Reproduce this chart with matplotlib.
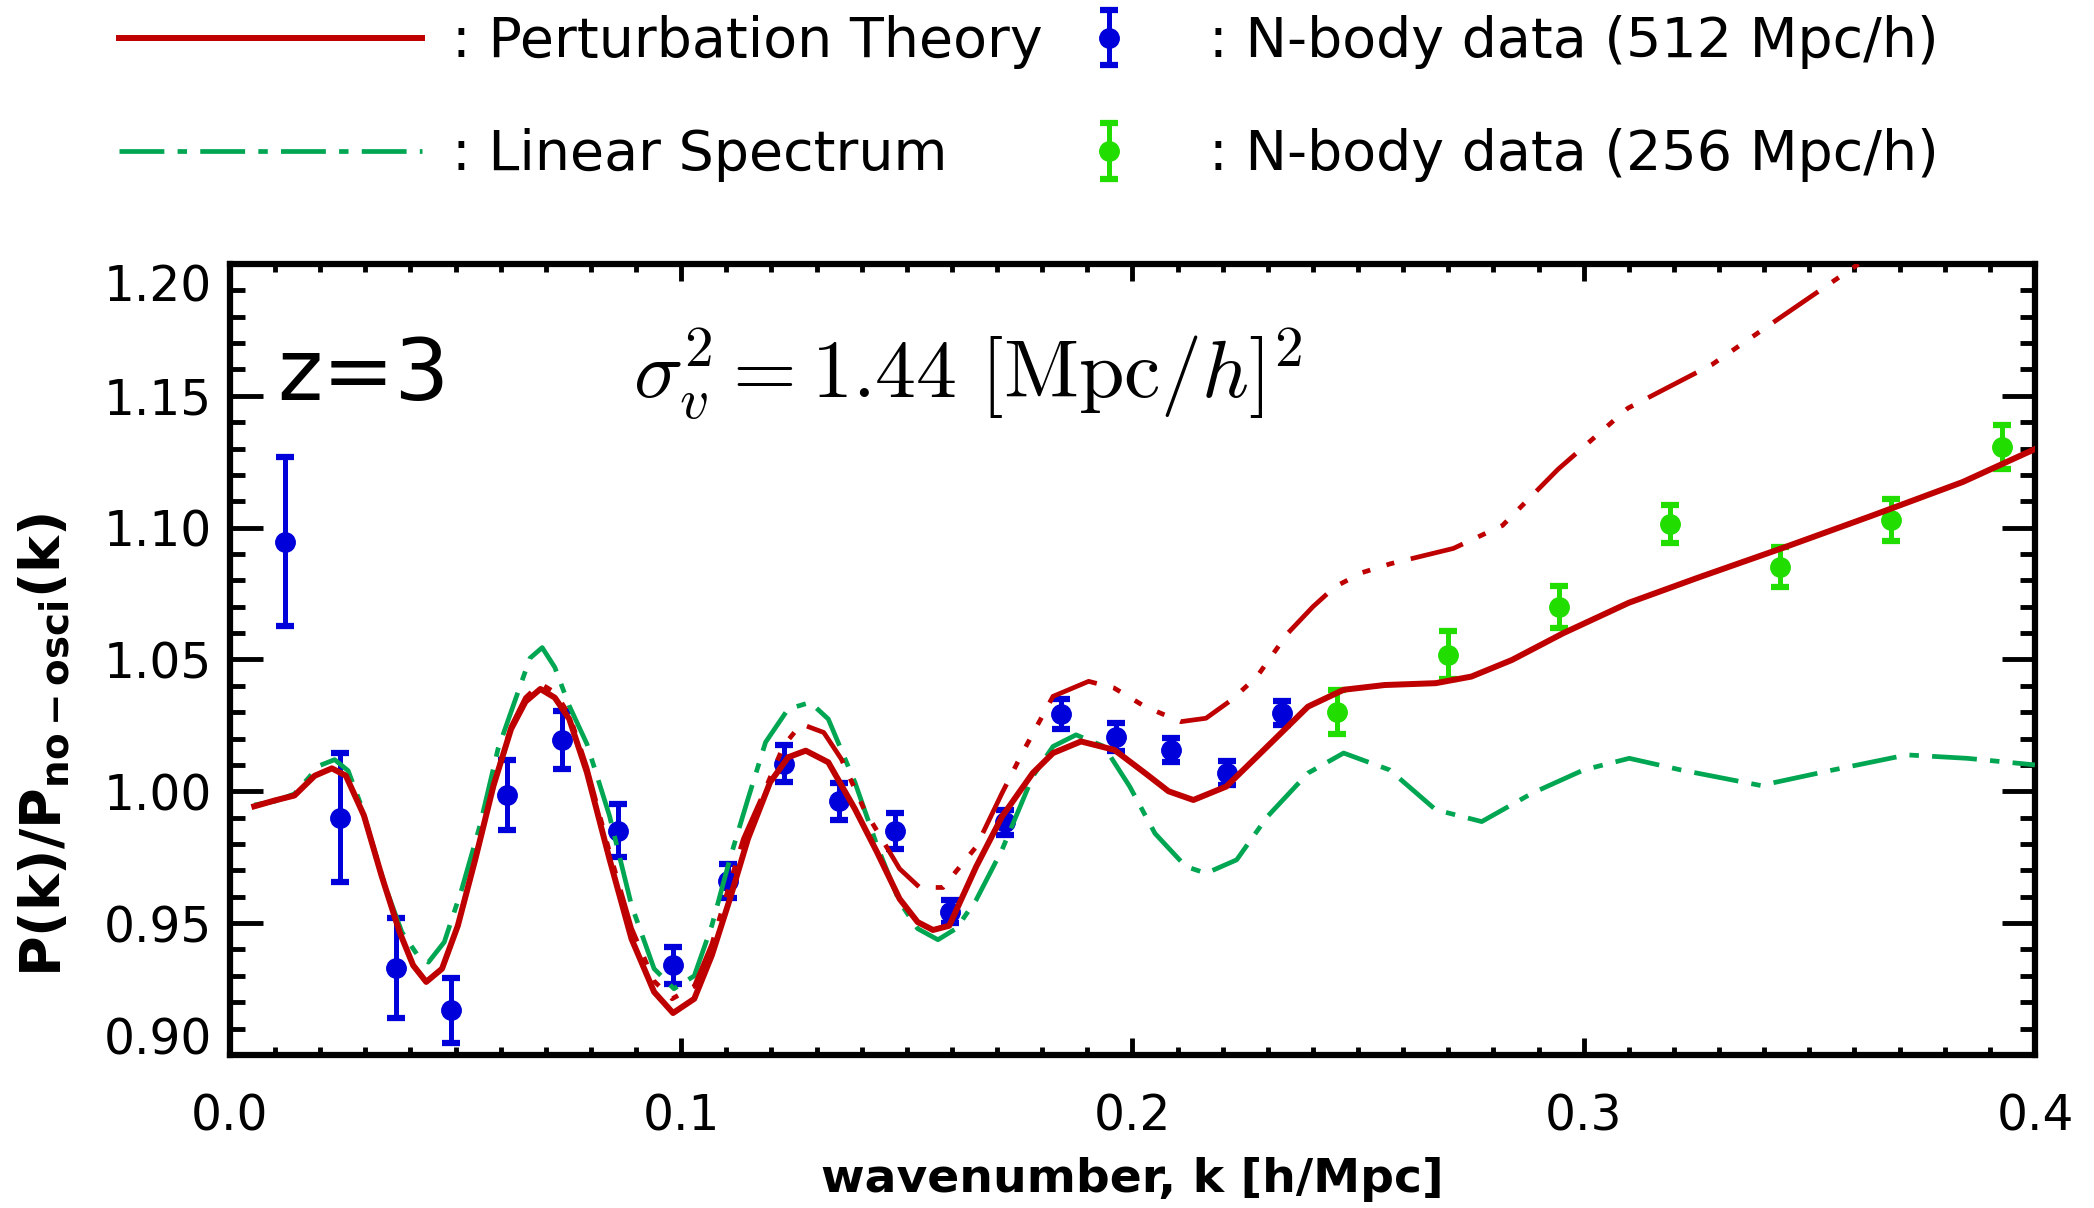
import matplotlib.pyplot as plt
from matplotlib.ticker import MultipleLocator, FormatStrFormatter

plt.rcParams['font.family'] = ['DejaVu Sans']

# N-body points, 512 Mpc/h box
k512 = [0.0123, 0.0245, 0.0368, 0.0491, 0.0614, 0.0736, 0.0859, 0.0982, 0.1104, 0.1227,
        0.1350, 0.1473, 0.1595, 0.1718, 0.1841, 0.1963, 0.2086, 0.2209, 0.2332]
p512 = [1.0946, 0.9900, 0.9329, 0.9170, 0.9987, 1.0196, 0.9851, 0.9340, 0.9660, 1.0105,
        0.9962, 0.9850, 0.9544, 0.9882, 1.0293, 1.0206, 1.0157, 1.0070, 1.0296]
e512 = [0.0320, 0.0245, 0.0190, 0.0123, 0.0133, 0.0110, 0.0100, 0.0070, 0.0065, 0.0070,
        0.0070, 0.0068, 0.0044, 0.0046, 0.0056, 0.0053, 0.0046, 0.0046, 0.0045]

# N-body points, 256 Mpc/h box
k256 = [0.2454, 0.2700, 0.2945, 0.3191, 0.3436, 0.3682, 0.3927]
p256 = [1.0302, 1.0515, 1.0699, 1.1014, 1.0850, 1.1028, 1.1305]
e256 = [0.0083, 0.0091, 0.0078, 0.0071, 0.0076, 0.0079, 0.0083]

# perturbation theory (solid)
k_pt = [0.0054, 0.0099, 0.0143, 0.0188, 0.0226, 0.0257, 0.0297, 0.0336, 0.0376, 0.0406,
        0.0435, 0.0470, 0.0505, 0.0544, 0.0584, 0.0623, 0.0655, 0.0688, 0.0720, 0.0752,
        0.0791, 0.0841, 0.0890, 0.0940, 0.0982, 0.1029, 0.1068, 0.1108, 0.1148, 0.1197,
        0.1237, 0.1276, 0.1326, 0.1385, 0.1434, 0.1484, 0.1524, 0.1558, 0.1594, 0.1654,
        0.1711, 0.1779, 0.1824, 0.1886, 0.1960, 0.2028, 0.2080, 0.2135, 0.2208, 0.2299,
        0.2389, 0.2468, 0.2559, 0.2672, 0.2751, 0.2841, 0.2954, 0.3100, 0.3253, 0.3438,
        0.3640, 0.3840, 0.4000]
p_pt = [0.9943, 0.9965, 0.9984, 1.0059, 1.0087, 1.0059, 0.9908, 0.9680, 0.9466, 0.9340,
        0.9277, 0.9327, 0.9490, 0.9744, 1.0021, 1.0236, 1.0340, 1.0388, 1.0355, 1.0274,
        1.0072, 0.9744, 0.9440, 0.9239, 0.9159, 0.9213, 0.9378, 0.9592, 0.9820, 1.0034,
        1.0129, 1.0154, 1.0110, 0.9933, 0.9769, 0.9592, 0.9504, 0.9474, 0.9490, 0.9715,
        0.9904, 1.0069, 1.0145, 1.0189, 1.0157, 1.0069, 1.0000, 0.9967, 1.0018, 1.0170,
        1.0321, 1.0385, 1.0403, 1.0410, 1.0435, 1.0498, 1.0599, 1.0715, 1.0810, 1.0921,
        1.1046, 1.1173, 1.1298]

# perturbation theory, other variant (dash dot dot dot)
k_pt2 = [0.0054, 0.0099, 0.0143, 0.0188, 0.0226, 0.0257, 0.0297, 0.0336, 0.0376, 0.0406,
         0.0435, 0.0470, 0.0505, 0.0544, 0.0584, 0.0623, 0.0655, 0.0688, 0.0720, 0.0752,
         0.0791, 0.0841, 0.0890, 0.0940, 0.0980, 0.1029, 0.1068, 0.1108, 0.1138, 0.1177,
         0.1227, 0.1266, 0.1316, 0.1355, 0.1405, 0.1484, 0.1528, 0.1580, 0.1654, 0.1711,
         0.1756, 0.1824, 0.1903, 0.1959, 0.2028, 0.2107, 0.2163, 0.2220, 0.2276, 0.2344,
         0.2400, 0.2449, 0.2510, 0.2572, 0.2711, 0.2820, 0.2943, 0.3098, 0.3284, 0.3407,
         0.3609]
p_pt2 = [0.9943, 0.9965, 0.9984, 1.0059, 1.0087, 1.0059, 0.9908, 0.9680, 0.9466, 0.9340,
         0.9277, 0.9327, 0.9490, 0.9744, 1.0021, 1.0245, 1.0355, 1.0408, 1.0375, 1.0290,
         1.0090, 0.9770, 0.9480, 0.9280, 0.9213, 0.9260, 0.9420, 0.9650, 0.9820, 0.9970,
         1.0173, 1.0255, 1.0223, 1.0122, 0.9933, 0.9706, 0.9636, 0.9635, 0.9790, 0.9993,
         1.0145, 1.0360, 1.0417, 1.0392, 1.0321, 1.0264, 1.0277, 1.0347, 1.0435, 1.0599,
         1.0700, 1.0776, 1.0830, 1.0863, 1.0921, 1.1008, 1.1221, 1.1453, 1.1618, 1.1763,
         1.2000]

# linear spectrum (dash dot)
k_lin = [0.0054, 0.0099, 0.0143, 0.0198, 0.0232, 0.0262, 0.0290, 0.0317, 0.0346, 0.0381,
         0.0416, 0.0440, 0.0475, 0.0514, 0.0554, 0.0594, 0.0633, 0.0665, 0.0692, 0.0720,
         0.0752, 0.0791, 0.0841, 0.0890, 0.0940, 0.0984, 0.1029, 0.1068, 0.1108, 0.1148,
         0.1187, 0.1237, 0.1286, 0.1326, 0.1385, 0.1434, 0.1484, 0.1524, 0.1569, 0.1610,
         0.1654, 0.1711, 0.1779, 0.1824, 0.1875, 0.1937, 0.1994, 0.2050, 0.2118, 0.2163,
         0.2231, 0.2299, 0.2389, 0.2468, 0.2570, 0.2672, 0.2774, 0.2886, 0.3000, 0.3101,
         0.3215, 0.3392, 0.3550, 0.3716, 0.3850, 0.4000]
p_lin = [0.9948, 0.9962, 0.9990, 1.0097, 1.0120, 1.0078, 0.9950, 0.9794, 0.9630, 0.9466,
         0.9378, 0.9352, 0.9428, 0.9630, 0.9870, 1.0160, 1.0350, 1.0505, 1.0545, 1.0470,
         1.0324, 1.0180, 0.9908, 0.9567, 0.9327, 0.9251, 0.9300, 0.9491, 0.9744, 0.9971,
         1.0186, 1.0312, 1.0337, 1.0274, 1.0034, 0.9794, 0.9580, 0.9479, 0.9437, 0.9480,
         0.9589, 0.9778, 1.0056, 1.0170, 1.0214, 1.0170, 1.0018, 0.9840, 0.9715, 0.9689,
         0.9740, 0.9904, 1.0069, 1.0145, 1.0081, 0.9930, 0.9885, 0.9993, 1.0081, 1.0125,
         1.0081, 1.0022, 1.0080, 1.0138, 1.0125, 1.0100]

red = '#BF0000'
green_line = '#00A651'
blue = '#0000DA'
green_pts = '#22DD00'

fig = plt.figure(figsize=(20.94, 12.08), dpi=100)
ax = fig.add_axes([0.1098, 0.1267, 0.8620, 0.6548])

eb512 = ax.errorbar(k512, p512, yerr=e512, fmt='o', color=blue, ms=14,
                    elinewidth=3.6, capsize=6.5, capthick=4.5, zorder=2)
eb256 = ax.errorbar(k256, p256, yerr=e256, fmt='o', color=green_pts, ms=14,
                    elinewidth=3.6, capsize=6.5, capthick=4.5, zorder=2)

lin_line, = ax.plot(k_lin, p_lin, color=green_line, lw=3.4,
                    ls=(0, (9.5, 2.8, 2.0, 2.8)), zorder=3)
ax.plot(k_pt2, p_pt2, color=red, lw=3.4,
        ls=(0, (11.5, 3.6, 1.7, 3.6, 1.7, 3.6, 1.7, 3.6)), zorder=4)
pt_line, = ax.plot(k_pt, p_pt, color=red, lw=4.3, zorder=5)

ax.set_xlim(0, 0.4)
ax.set_ylim(0.9, 1.2)
ax.xaxis.set_major_locator(MultipleLocator(0.1))
ax.xaxis.set_minor_locator(MultipleLocator(0.01))
ax.yaxis.set_major_locator(MultipleLocator(0.05))
ax.yaxis.set_minor_locator(MultipleLocator(0.01))
ax.xaxis.set_major_formatter(FormatStrFormatter('%.1f'))
ax.yaxis.set_major_formatter(FormatStrFormatter('%.2f'))
ax.tick_params(which='both', direction='in', top=True, right=True, width=3.5)
ax.tick_params(axis='x', which='major', length=12, pad=27, labelsize=35)
ax.tick_params(axis='x', which='minor', length=5.5)
ax.tick_params(axis='y', which='major', length=24, pad=13, labelsize=35)
ax.tick_params(axis='y', which='minor', length=11)
for sp in ax.spines.values():
    sp.set_linewidth(4.5)

ax.set_xlabel('wavenumber, k [h/Mpc]', fontsize=34, fontweight='bold')
ax.xaxis.set_label_coords(0.5, -0.129)
ax.set_ylabel(r'P(k)/P$_\mathbf{no-osci}$(k)', fontsize=40, fontweight='bold')
ax.yaxis.set_label_coords(-0.088, 0.392)

ax.text(0.0105, 1.1484, 'z=3', fontsize=62, va='baseline', ha='left')
ax.text(0.0893, 1.1488, r'$\sigma_v^2 = 1.44\ [\mathrm{Mpc}/h]^2$', fontsize=59,
        va='baseline', ha='left', math_fontfamily='cm')

fig.legend([pt_line, lin_line], [': Perturbation Theory', ': Linear Spectrum'],
           loc='upper left', bbox_to_anchor=(119 / 2094, 1 - 15 / 1208), frameon=False,
           fontsize=40, handlelength=5.45, handletextpad=0.55, labelspacing=1.07,
           borderpad=0, borderaxespad=0)
fig.legend([eb512, eb256], [': N-body data (512 Mpc/h)', ': N-body data (256 Mpc/h)'],
           loc='upper left', bbox_to_anchor=(1081 / 2094, 1 - 15 / 1208), frameon=False,
           fontsize=40, handlelength=1.0, handletextpad=1.3, labelspacing=1.07,
           borderpad=0, borderaxespad=0)

# IDL style: end labels pulled inside the axis range
fig.canvas.draw()
for t in ax.yaxis.get_major_ticks():
    if abs(t.get_loc() - 0.9) < 1e-6:
        t.label1.set_va('baseline')
    elif abs(t.get_loc() - 1.2) < 1e-6:
        t.label1.set_va('top')

fig.savefig('out.png', dpi=100)
